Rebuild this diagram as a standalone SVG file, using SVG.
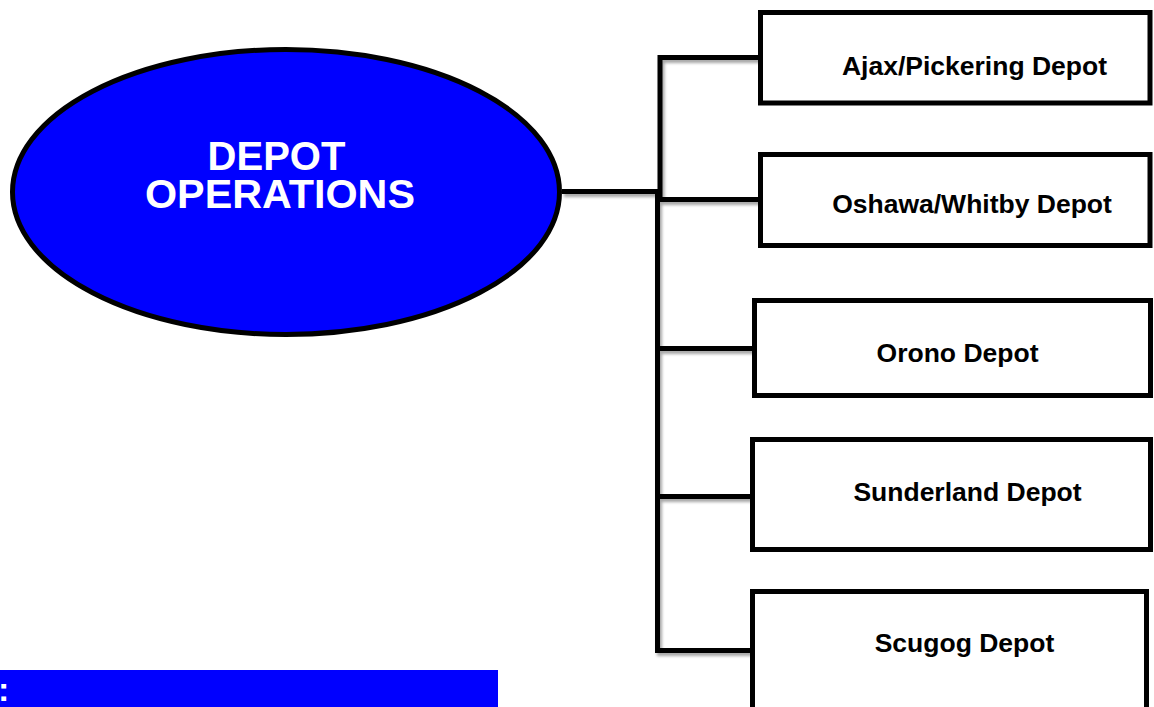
<svg xmlns="http://www.w3.org/2000/svg" width="1154" height="707" viewBox="0 0 1154 707">
<style>
.box{fill:#fff;stroke:#000;stroke-width:5}
.lbl{font-family:"Liberation Sans",Arial,sans-serif;font-weight:bold;font-size:26.5px;fill:#000;text-anchor:middle}
.title{font-family:"Liberation Sans",Arial,sans-serif;font-weight:bold;font-size:40px;fill:#fff;text-anchor:middle}
.conn{fill:none;stroke:#000;stroke-width:5}
</style>
<defs>
<filter id="sh" x="-10%" y="-10%" width="130%" height="130%">
<feDropShadow dx="2" dy="3" stdDeviation="1.5" flood-color="#000" flood-opacity="0.35"/>
</filter>
</defs>
<rect width="1154" height="707" fill="#fff"/>
<g id="connectors" filter="url(#sh)">
<path class="conn" d="M562 191.5 H660"/>
<path class="conn" d="M760 57.5 H660 V197"/>
<path class="conn" d="M657.5 190 V650.5"/>
<path class="conn" d="M657.5 199.5 H760"/>
<path class="conn" d="M657.5 348.5 H754"/>
<path class="conn" d="M657.5 496.5 H752"/>
<path class="conn" d="M655 650.5 H752"/>
</g>
<g id="depot-operations">
<ellipse cx="286" cy="192" rx="273.5" ry="142.5" fill="#0000ff" stroke="#000" stroke-width="5"/>
<text class="title" x="278" y="170"><tspan x="276.5">DEPOT</tspan><tspan x="280" dy="38" textLength="270" lengthAdjust="spacingAndGlyphs">OPERATIONS</tspan></text>
</g>
<g id="ajax">
<rect class="box" x="760.5" y="12.5" width="389.5" height="90.5"/>
<text class="lbl" x="974.5" y="75">Ajax/Pickering Depot</text>
</g>
<g id="oshawa">
<rect class="box" x="760.5" y="154.5" width="389.5" height="91"/>
<text class="lbl" x="972" y="213">Oshawa/Whitby Depot</text>
</g>
<g id="orono">
<rect class="box" x="754.5" y="300.5" width="396" height="95"/>
<text class="lbl" x="957.5" y="362">Orono Depot</text>
</g>
<g id="sunderland">
<rect class="box" x="752.5" y="439.5" width="398" height="110"/>
<text class="lbl" x="967.5" y="501">Sunderland Depot</text>
</g>
<g id="scugog">
<rect class="box" x="752.5" y="591.5" width="394" height="130"/>
<text class="lbl" x="964.5" y="652">Scugog Depot</text>
</g>
<g id="footer">
<rect x="0" y="670" width="498" height="37" fill="#0000ff"/>
<text x="-2" y="701" font-family="'Liberation Sans',Arial,sans-serif" font-weight="bold" font-size="34" fill="#fff">:</text>
</g>
</svg>
